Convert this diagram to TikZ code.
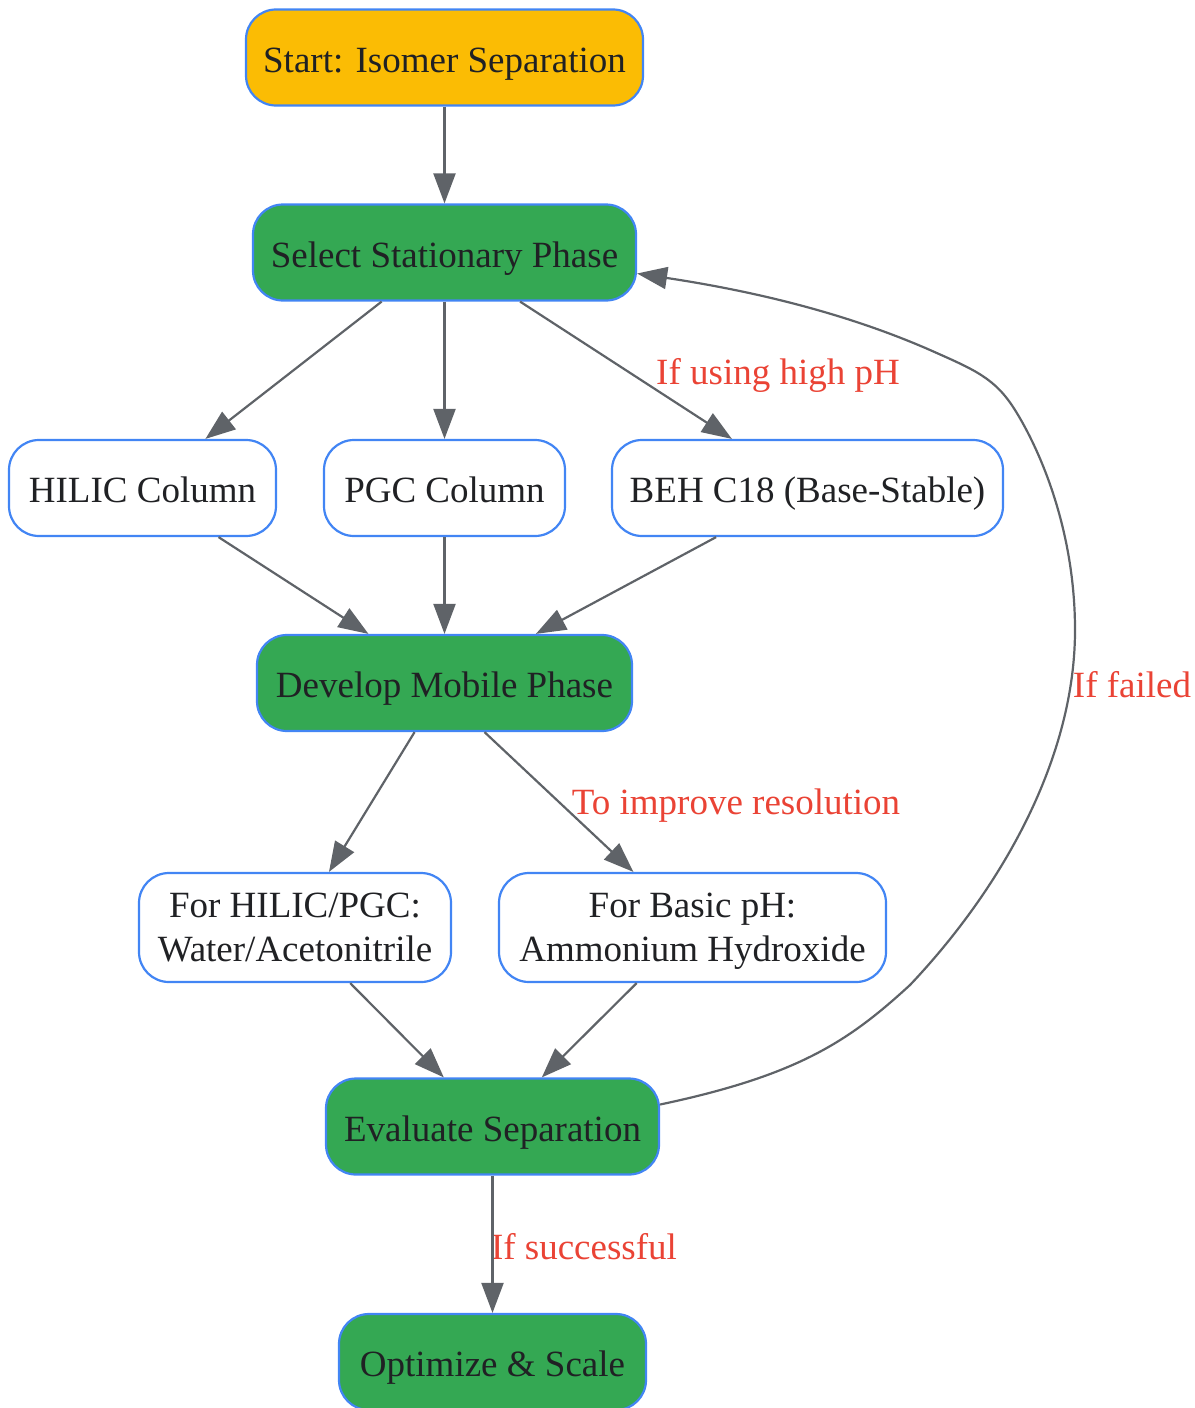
\documentclass[tikz,border=0pt]{standalone}
\usepackage{fontspec}
\setmainfont{Liberation Serif}
\usetikzlibrary{arrows.meta}
\definecolor{gyellow}{HTML}{FBBC04}
\definecolor{ggreen}{HTML}{34A853}
\definecolor{gblue}{HTML}{4285F4}
\definecolor{ggray}{HTML}{5F6368}
\definecolor{gred}{HTML}{EA4335}
\definecolor{gtext}{HTML}{202124}
\tikzset{
  box/.style={draw=gblue, line width=2.2pt, rounded corners=30pt, minimum height=96pt,
    inner sep=0pt, align=center, text=gtext, font=\fontsize{37}{44}\selectfont,
    text height=29pt, text depth=0pt},
  startbox/.style={box, fill=gyellow},
  greenbox/.style={box, fill=ggreen},
  whitebox/.style={box, fill=white},
  tallbox/.style={draw=gblue, line width=2.2pt, rounded corners=30pt, minimum height=109pt,
    inner sep=0pt, align=center, text=gtext, font=\fontsize{37}{44}\selectfont,
    fill=white, text depth=0pt},
  edge/.style={draw=ggray, line width=2.2pt, -{Triangle[length=30pt,width=22pt]}},
  lbl/.style={text=gred, font=\fontsize{37}{44}\selectfont, inner sep=0pt}
}
\begin{document}
\begin{tikzpicture}[x=1pt,y=-1pt]
\useasboundingbox (0,0) rectangle (1194,1408);
\node[startbox, minimum width=397pt] (start) at (444.5,57.5) {Start: Isomer Separation};
\node[greenbox, minimum width=383pt] (sel) at (444.5,252.5) {Select Stationary Phase};
\node[whitebox, minimum width=267pt] (hilic) at (142.5,488) {HILIC Column};
\node[whitebox, minimum width=241pt] (pgc) at (444.5,488) {PGC Column};
\node[whitebox, minimum width=391pt] (beh) at (807.5,488) {BEH C18 (Base-Stable)};
\node[greenbox, minimum width=375pt] (dev) at (444.5,683) {Develop Mobile Phase};
\node[tallbox, minimum width=312pt] (wa) at (295,927.5) {For HILIC/PGC:\\Water/Acetonitrile};
\node[tallbox, minimum width=387pt] (ah) at (692.5,927.5) {For Basic pH:\\Ammonium Hydroxide};
\node[greenbox, minimum width=333pt] (eval) at (492.5,1126.5) {Evaluate Separation};
\node[greenbox, minimum width=307pt] (opt) at (492.5,1362) {Optimize \& Scale};

\node[lbl] (l1) at (778,375) {If using high pH};
\node[lbl] (l2) at (736,806) {To improve resolution};
\node[lbl] (l3) at (1132,685) {If failed};
\node[lbl] (l4) at (584,1247) {If successful};

\draw[edge] (start) -- (sel);
\draw[edge] (sel) -- (hilic);
\draw[edge] (sel) -- (pgc);
\draw[edge] (sel) -- (beh);
\draw[edge] (hilic) -- (dev);
\draw[edge] (pgc) -- (dev);
\draw[edge] (beh) -- (dev);
\draw[edge] (dev) -- (wa);
\draw[edge] (dev.south) ++(40pt,0) coordinate (devout) -- (ah);
\draw[edge] (wa) -- (eval);
\draw[edge] (ah) -- (eval);
\draw[edge] (eval) -- (opt);
\draw[edge] ([yshift=22pt]eval.east) .. controls (800,1075) and (850,1040) .. (910,985)
  .. controls (1000,890) and (1075,760) .. (1075,630)
  .. controls (1075,530) and (1040,450) .. (1015,410)
  .. controls (995,378) and (975,370) .. (930,350)
  .. controls (850,315) and (760,292) .. ([yshift=-21pt]sel.east);
\end{tikzpicture}
\end{document}
